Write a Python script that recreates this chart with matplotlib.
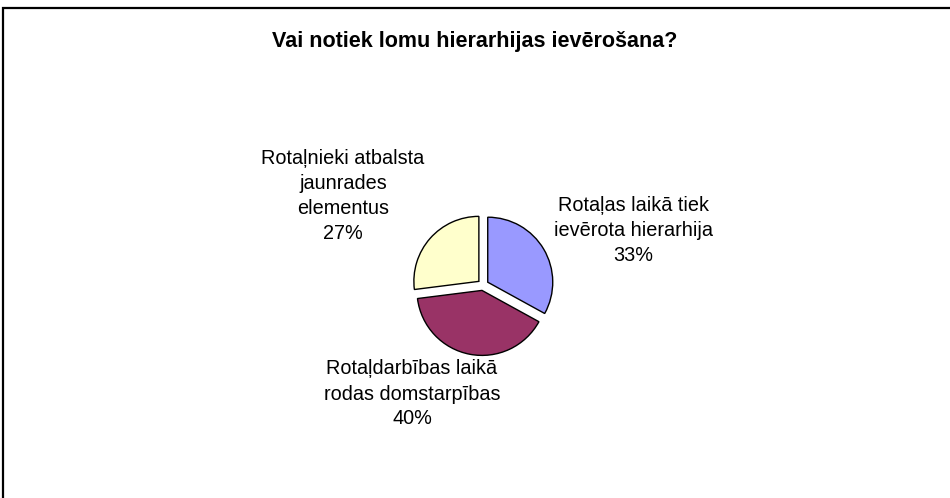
import matplotlib.pyplot as plt
from matplotlib.patches import Rectangle

plt.rcParams["font.family"] = ["Liberation Sans", "DejaVu Sans"]

title = "Vai notiek lomu hierarhijas ievērošana?"
categories = [
    "Rotaļas laikā tiek\nievērota hierarhija",
    "Rotaļdarbības laikā\nrodas domstarpības",
    "Rotaļnieki atbalsta\njaunrades\nelementus",
]
shares = [33, 40, 27]
colors = ["#9999FF", "#993366", "#FFFFCC"]

# label centres, pixel offsets from the pie centre (x right, y up)
label_offsets = [(150, 55), (-71, -109), (-140, 89)]

W, H = 950, 498
fig = plt.figure(figsize=(W / 100, H / 100), dpi=100)
ax = fig.add_axes([0, 0, 1, 1])

cx, cy, r = 483, 213, 65
# explode is in data units here (pixels), not fractions of the radius
ax.pie(
    shares,
    colors=colors,
    startangle=90,
    counterclock=False,
    explode=[5.5] * len(shares),
    center=(cx, cy),
    radius=r,
    wedgeprops=dict(edgecolor="black", linewidth=1.0),
    frame=True,
)
ax.set_xlim(0, W)
ax.set_ylim(0, H)
ax.set_aspect("equal")
ax.set_axis_off()

for lbl, val, (dx, dy) in zip(categories, shares, label_offsets):
    ax.text(
        cx + dx,
        cy + dy,
        f"{lbl}\n{val}%",
        ha="center",
        va="center",
        fontsize=14.3,
        linespacing=1.4,
    )

fig.text(0.5, 1 - 42 / H, title, ha="center", va="center",
         fontsize=15.5, fontweight="bold")

# chart border (runs off the right and bottom edges)
fig.add_artist(Rectangle((3 / W, -0.1), 1.1, (H - 8) / H + 0.1,
                         transform=fig.transFigure, fill=False,
                         edgecolor="black", linewidth=1.6))

fig.savefig("out.png", dpi=100, facecolor="white")
